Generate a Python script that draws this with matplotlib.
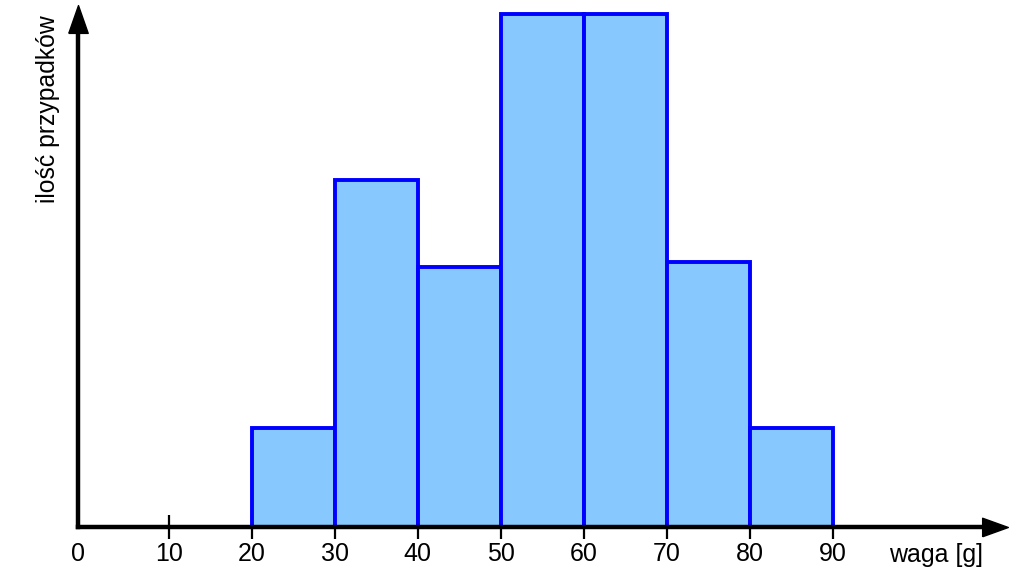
import matplotlib.pyplot as plt
import matplotlib.transforms as mtransforms
import numpy as np

plt.rcParams['font.family'] = ['Liberation Sans', 'DejaVu Sans']

# histogram data
bin_edges = [20, 30, 40, 50, 60, 70, 80, 90]
counts = [2.0, 7.01, 5.26, 10.36, 10.36, 5.35, 2.0]
tick_values = [0, 10, 20, 30, 40, 50, 60, 70, 80, 90]
tick_labels = [str(t) for t in tick_values]

W, H = 1024, 574
fig = plt.figure(figsize=(W / 100, H / 100), dpi=100)

# axes box in pixels (left, right, bottom, top measured from top)
left_px, right_px = 78, 994.5
base_px, top_px = 527, 18.5
ax = fig.add_axes([left_px / W, (H - base_px) / H,
                   (right_px - left_px) / W, (base_px - top_px) / H])

px_per_unit = 8.30
zero_px = 85.6
ax.set_xlim((left_px - zero_px) / px_per_unit, (right_px - zero_px) / px_per_unit)
unit_y = 49.5
ax.set_ylim(0, (base_px - top_px) / unit_y)

widths = np.diff(bin_edges)
ax.bar(bin_edges[:-1], counts, width=widths, align='edge',
       color='#87c8ff', edgecolor='#0000ff', linewidth=2.8,
       clip_on=False, zorder=2)

for s in ['top', 'right']:
    ax.spines[s].set_visible(False)
for s in ['left', 'bottom']:
    ax.spines[s].set_linewidth(3.2)
    ax.spines[s].set_zorder(3)

# arrow heads
ax.plot(1, 0, marker=[(-1, -0.72), (1, 0), (-1, 0.72), (-1, -0.72)],
        markersize=18.5, color='black', transform=ax.transAxes,
        clip_on=False, zorder=4)
ax.plot(0, 1, marker=[(-0.7, -1), (0, 1), (0.7, -1), (-0.7, -1)],
        markersize=20, color='black', transform=ax.transAxes,
        clip_on=False, zorder=4)

ax.set_yticks([])
ax.set_xticks(tick_values)
ax.set_xticklabels(tick_labels, fontsize=18)
ax.tick_params(axis='x', direction='inout', length=17, width=1.6,
               pad=2, colors='black')
first = ax.xaxis.get_major_ticks()[0]
first.tick1line.set_visible(False)
first.label1.set_transform(first.label1.get_transform() +
                           mtransforms.ScaledTranslation(-7.6 / 100, 0, fig.dpi_scale_trans))

fig.text(889 / W, (H - 555) / H, 'waga [g]', fontsize=18,
         ha='left', va='center')
fig.text(48 / W, (H - 15) / H, 'ilość przypadków', fontsize=17.8,
         rotation=90, ha='center', va='top')

fig.savefig('out.png', dpi=100)
